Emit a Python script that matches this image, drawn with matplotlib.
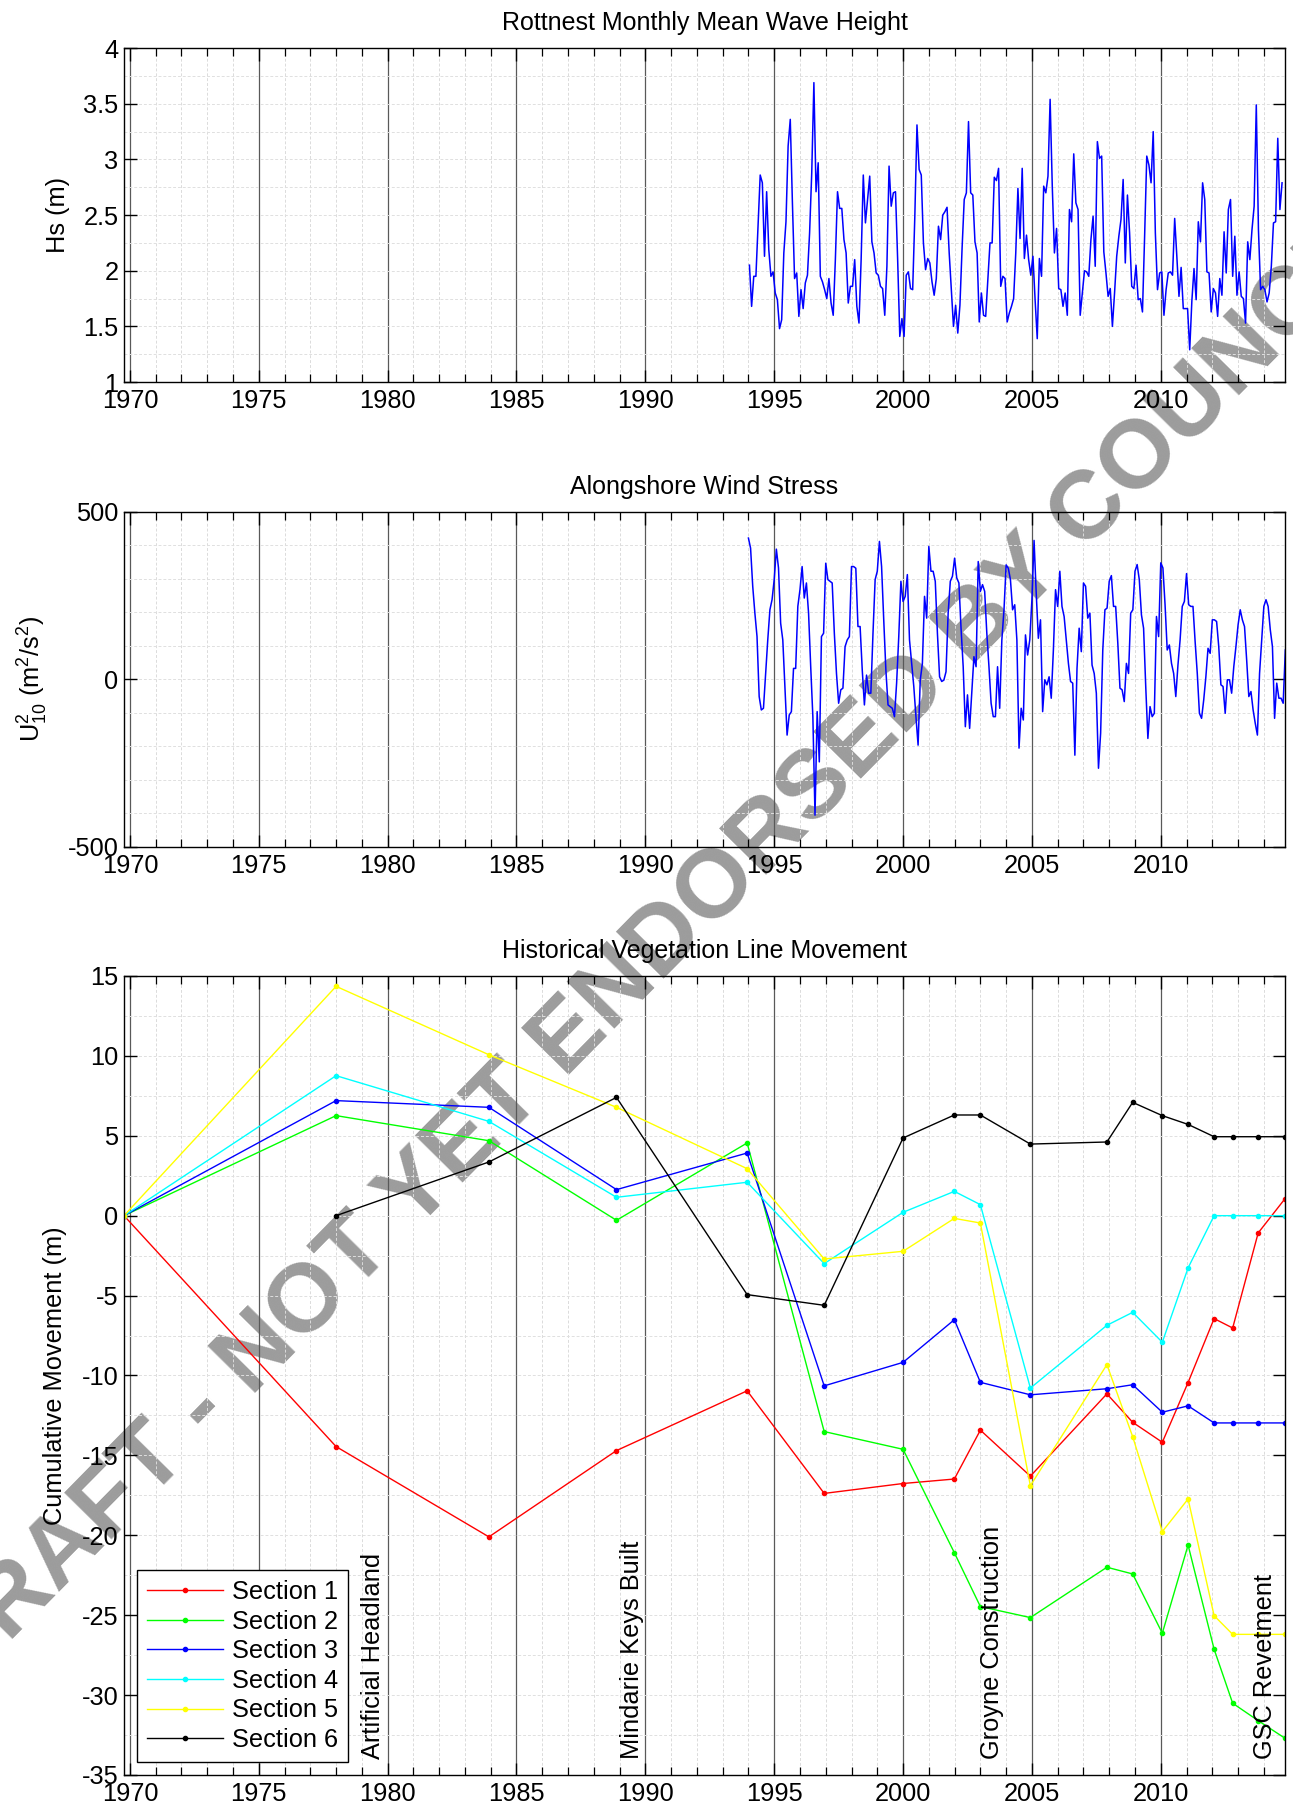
import numpy as np
import matplotlib
matplotlib.use('Agg')
import matplotlib.pyplot as plt
from matplotlib.ticker import MultipleLocator, FormatStrFormatter

plt.rcParams['font.family'] = ['Liberation Sans', 'DejaVu Sans']
plt.rcParams['font.size'] = 18.3
plt.rcParams['axes.unicode_minus'] = False
plt.rcParams['mathtext.fontset'] = 'custom'
plt.rcParams['mathtext.rm'] = 'Liberation Sans'
plt.rcParams['mathtext.it'] = 'Liberation Sans:italic'

# x limits shared by the three panels (decimal years)
xlim = (1969.77, 2014.82)

# Rottnest monthly mean Hs (m), monthly from Jan 1994
wave_start = 1994.04
hs = [2.05, 1.68, 1.95, 1.95, 2.40, 2.86, 2.79, 2.13, 2.71, 2.19, 1.95,
      1.99, 1.80, 1.74, 1.48, 1.56, 2.16, 2.44, 3.12, 3.36, 2.61,
      1.93, 1.98, 1.59, 1.83, 1.66, 1.89, 1.96, 2.34, 2.88, 3.69,
      2.71, 2.97, 1.95, 1.90, 1.83, 1.75, 1.93, 1.71, 1.60, 2.10,
      2.71, 2.56, 2.56, 2.28, 2.16, 1.71, 1.86, 1.86, 2.10, 1.68,
      1.53, 2.10, 2.86, 2.43, 2.64, 2.85, 2.26, 2.16, 1.98, 1.96,
      1.86, 1.84, 1.60, 2.04, 2.94, 2.58, 2.70, 2.71, 2.10, 1.41,
      1.57, 1.41, 1.96, 1.99, 1.84, 1.83, 2.49, 3.31, 2.91, 2.86,
      2.25, 2.01, 2.11, 2.07, 1.90, 1.78, 1.93, 2.40, 2.28, 2.50,
      2.53, 2.57, 2.16, 1.83, 1.50, 1.69, 1.44, 1.69, 2.20, 2.64,
      2.70, 3.34, 2.70, 2.68, 2.26, 2.16, 1.54, 1.80, 1.60, 1.59,
      1.92, 2.25, 2.25, 2.84, 2.81, 2.92, 1.86, 1.95, 1.93, 1.54,
      1.62, 1.68, 1.75, 2.16, 2.74,
      2.29, 2.92, 2.11, 2.32, 2.10, 1.96, 2.13, 1.74, 1.39, 2.11,
      1.95, 2.76, 2.70, 2.85, 3.54, 2.76, 2.16, 2.38, 1.84, 1.83,
      1.68, 1.80, 1.60, 2.55, 2.44, 3.05, 2.61, 2.55, 1.60, 1.80,
      2.00, 1.99, 1.95, 2.28, 2.49, 2.04, 3.16, 3.01, 3.03, 2.17,
      1.98, 1.77, 1.84, 1.50, 1.80, 2.13, 2.31, 2.46, 2.82, 2.07,
      2.68, 2.34, 1.86, 1.84, 2.05, 1.74, 1.75, 1.63, 2.31, 3.03,
      2.95, 2.79, 3.25, 2.34, 1.83, 1.98, 1.99, 1.60, 1.83, 1.98,
      1.99, 1.96, 2.47, 2.13, 1.77, 2.03, 1.66, 1.66, 1.66, 1.29,
      1.73, 2.02, 1.74, 2.44, 2.26, 2.79, 2.64, 1.99, 1.98, 1.63,
      1.84, 1.80, 1.59, 1.93, 1.78, 2.35, 1.98, 2.55, 2.64, 1.95,
      2.31, 1.78, 1.99, 1.77, 1.75, 1.53, 2.26, 2.10, 2.37, 2.58,
      3.49, 2.37, 1.83, 1.86, 1.83, 1.72, 1.80, 2.04, 2.43, 2.44,
      3.19, 2.55, 2.79]

# alongshore wind stress U10^2 (m2/s2), monthly from Jan 1994
wind_start = 1994.0
wind = [422, 392, 278, 198, 128, -51, -91, -86, 18, 118,
        208, 238, 298, 389, 333, 168, 118, -21, -166, -106,
        -96, 33, 33, 218, 268, 337, 243, 288, 198, 38,
        -111, -405, -96, -246, 128, 138, 347, 298, 293, 288,
        138, 18, -71, -31, -26, 98, 118, 128, 337, 337,
        332, 158, 158, 28, -76, 13, -41, -41, 138, 298,
        323, 412, 337, 178, 28, -76, -81, -86, -111, -11,
        128, 293, 233, 248, 313, 118, 48, -21, -111, -196,
        -2, 48, 248, 183, 397, 323, 323, 293, 138, 8,
        -6, -2, 23, 198, 293, 308, 362, 303, 288, 153,
        38, -141, -46, -146, -41, 68, 38, 352, 263, 283,
        263, 138, 38, -71, -111, -111, 38, -86, 118, 208,
        342, 332, 298, 208, 223, 118, -205,
        -86, -121, 133, 73, 118, 238, 415, 258, 123, 178,
        -96, -1, -16, 8, -56, 88, 268, 218, 323, 218,
        188, 118, 48, -6, -11, -226, 33, 153, 83, 288,
        278, 183, 198, 43, 18, -41, -265, -160, 88, 208,
        213, 293, 310, 218, 218, 108, -26, -31, -66, 48,
        18, 198, 208, 323, 343, 298, 193, 153, -21, -176,
        -81, -111, -101, 188, 128, 348, 333, 223, 88, 103,
        48, 18, -51, 43, 118, 218, 233, 316, 223, 218,
        218, 113, 18, -101, -116, -61, 8, 93, 78, 178,
        178, 173, 98, -16, -21, -101, -1, -1, -41, 38,
        98, 163, 208, 178, 158, 58, -51, -36, -91, -131,
        -166, 18, 118, 218, 238, 218, 148, 98, -116, -11,
        -56, -56, -71, 88]

# vegetation line surveys
survey = [1969.77, 1978.0, 1983.93, 1988.88, 1993.95, 1996.94, 2000.0, 2001.99,
          2003.0, 2004.94, 2007.91, 2008.91, 2010.06, 2011.06, 2012.07, 2012.79,
          2013.78, 2014.82]
sec1 = [0, -14.45, -20.1, -14.7, -10.96, -17.38, -16.76, -16.48, -13.42, -16.3,
        -11.15, -12.93, -14.18, -10.44, -6.44, -7.03, -1.08, 1.06]
sec2 = [0, 6.26, 4.69, -0.29, 4.55, -13.51, -14.62, -21.09, -24.46, -25.15,
        -22.0, -22.42, -26.13, -20.61, -27.13, -30.51, -31.6, -32.7]
sec3 = [0, 7.2, 6.78, 1.63, 3.92, -10.65, -9.18, -6.51, -10.43, -11.21,
        -10.83, -10.58, -12.3, -11.9, -12.97, -12.97, -12.97, -12.97]
sec4 = [0, 8.76, 5.9, 1.15, 2.09, -3.0, 0.21, 1.52, 0.69, -10.79,
        -6.86, -6.05, -7.92, -3.27, 0, 0, 0, 0]
sec5 = [0, 14.35, 10.07, 6.78, 2.94, -2.71, -2.23, -0.17, -0.46, -16.9,
        -9.32, -13.83, -19.77, -17.73, -25.03, -26.2, -26.2, -26.2]
sec6 = [np.nan, 0, 3.36, 7.4, -4.94, -5.61, 4.86, 6.3, 6.3, 4.48,
        4.61, 7.09, 6.26, 5.71, 4.94, 4.94, 4.94, 4.94]
sections = [sec1, sec2, sec3, sec4, sec5, sec6]
sec_names = ['Section 1', 'Section 2', 'Section 3', 'Section 4', 'Section 5', 'Section 6']
sec_colors = ['#ff0000', '#00ff00', '#0000ff', '#00ffff', '#ffff00', '#000000']

events = ['Artificial Headland', 'Mindarie Keys Built', 'Groyne Construction', 'GSC Revetment']
event_x = [1979.45, 1989.5, 2003.45, 2014.05]


def style(ax, ylim, ymaj, ymin):
    ax.set_facecolor('none')
    ax.set_xlim(xlim)
    ax.set_ylim(ylim)
    ax.xaxis.set_major_locator(MultipleLocator(5))
    ax.xaxis.set_minor_locator(MultipleLocator(1))
    ax.yaxis.set_major_locator(MultipleLocator(ymaj))
    ax.yaxis.set_minor_locator(MultipleLocator(ymin))
    ax.yaxis.set_major_formatter(FormatStrFormatter('%g'))
    ax.tick_params(which='both', direction='in', top=True, right=True)
    ax.tick_params(which='major', length=9, width=1)
    ax.tick_params(axis='x', which='minor', length=6, width=0.9)
    ax.tick_params(axis='y', which='minor', length=0)
    ax.tick_params(axis='x', pad=5)
    ax.tick_params(axis='y', pad=4)
    ax.grid(axis='x', which='major', color='0.35', lw=0.9, ls='-')
    ax.grid(axis='x', which='minor', color='0.86', lw=0.7, ls=(0, (3, 2)))
    ax.grid(axis='y', which='both', color='0.88', lw=0.7, ls=(0, (3, 2)))
    for s in ax.spines.values():
        s.set_linewidth(1.0)


fig = plt.figure(figsize=(12.93, 18.09), dpi=100)

# top: wave height
ax1 = fig.add_axes([0.0959, 0.7888, 0.8979, 0.1846])
t_wave = wave_start + np.arange(len(hs)) / 12
ax1.plot(t_wave, hs, color='#0000ff', lw=1.1)
style(ax1, (1, 4), 0.5, 0.25)
ax1.set_title('Rottnest Monthly Mean Wave Height', pad=13, fontsize=18)
ax1.set_ylabel('Hs (m)')
ax1.yaxis.set_label_coords(-0.0465, 0.5)

# middle: wind stress
ax2 = fig.add_axes([0.0959, 0.5318, 0.8979, 0.1852])
t_wind = wind_start + np.arange(len(wind)) / 12
ax2.plot(t_wind, wind, color='#0000ff', lw=1.1)
style(ax2, (-500, 500), 500, 100)
ax2.set_title('Alongshore Wind Stress', pad=13, fontsize=18)
ax2.set_ylabel(r'U$\mathregular{^2_{10}}$ (m$\mathregular{^2}$/s$\mathregular{^2}$)')
ax2.yaxis.set_label_coords(-0.064, 0.5)

# bottom: vegetation line
ax3 = fig.add_axes([0.0959, 0.0188, 0.8979, 0.4417])
for vals, name, c in zip(sections, sec_names, sec_colors):
    ax3.plot(survey, vals, color=c, lw=1.0, marker='.', markersize=6, label=name)
style(ax3, (-35, 15), 5, 2.5)
ax3.set_title('Historical Vegetation Line Movement', pad=13, fontsize=18)
ax3.set_ylabel('Cumulative Movement (m)')
ax3.yaxis.set_label_coords(-0.049, 0.5)
for name, x in zip(events, event_x):
    ax3.text(x, -34.0, name, rotation=90, ha='center', va='bottom')
leg = ax3.legend(loc='lower left', bbox_to_anchor=(0.011, 0.016), borderaxespad=0,
                 fancybox=False, framealpha=1, edgecolor='black', handlelength=3.0,
                 handletextpad=0.35, labelspacing=0.22, borderpad=0.4)
leg.get_frame().set_linewidth(1.0)

# watermark behind the plot content
fig.text(0.51, 0.476, 'DRAFT - NOT YET ENDORSED BY COUNCIL', rotation=45.4,
         rotation_mode='anchor', ha='center', va='center', fontsize=70,
         fontweight='bold', color='#9c9c9c', zorder=-1)

fig.savefig('out.png', dpi=100, facecolor='white')
